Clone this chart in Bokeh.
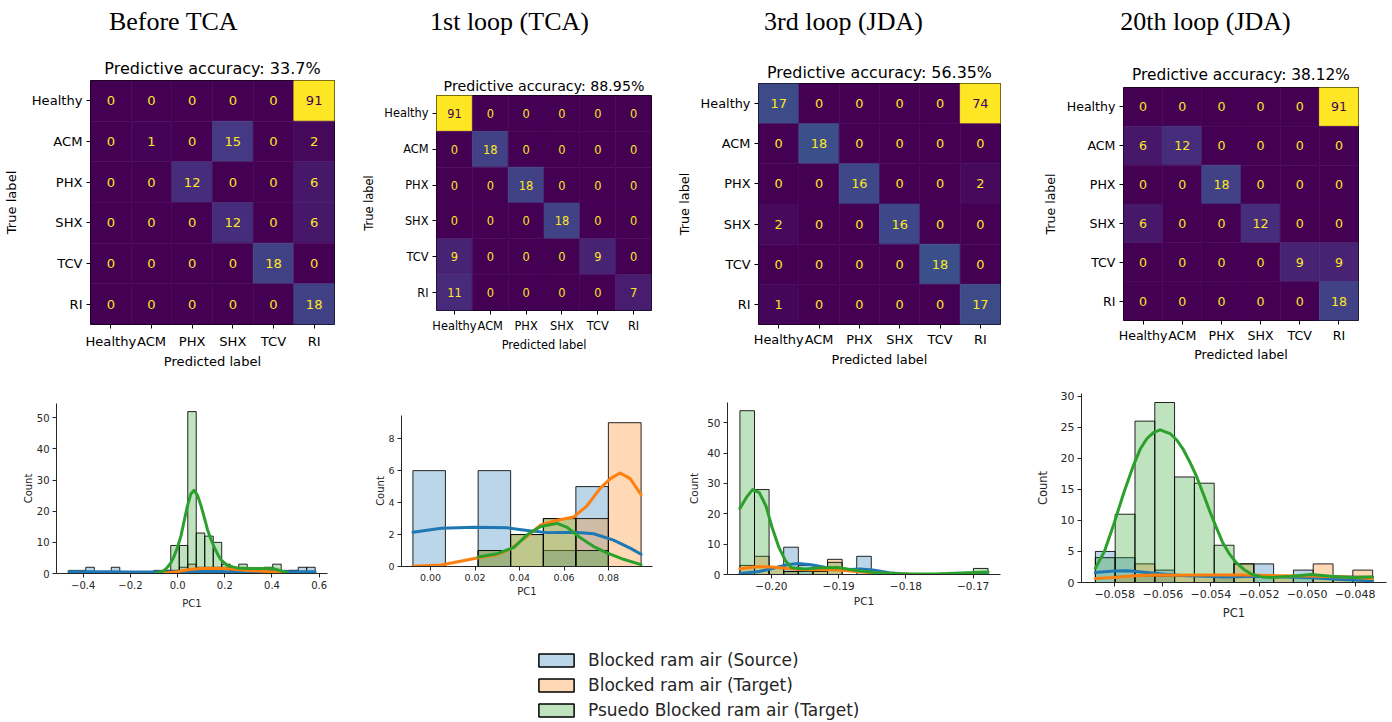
from bokeh.plotting import figure
from bokeh.layouts import column, row
from bokeh.models import (ColumnDataSource, FactorRange, Range1d, LinearColorMapper, FixedTicker,
                          SingleIntervalTicker, CustomJSTickFormatter, Legend, LegendItem)
from bokeh.palettes import Viridis256
from bokeh.transform import transform
from bokeh.embed import file_html
from bokeh.resources import INLINE
from bokeh.core.properties import value

# ---------------- data ----------------
CLASSES = ["Healthy", "ACM", "PHX", "SHX", "TCV", "RI"]
PANEL_TITLES = ["Before TCA", "1st loop (TCA)", "3rd loop (JDA)", "20th loop (JDA)"]
ACCURACY = ["33.7%", "88.95%", "56.35%", "38.12%"]

CM_BEFORE = [[0, 0, 0, 0, 0, 91], [0, 1, 0, 15, 0, 2], [0, 0, 12, 0, 0, 6],
             [0, 0, 0, 12, 0, 6], [0, 0, 0, 0, 18, 0], [0, 0, 0, 0, 0, 18]]
CM_LOOP1 = [[91, 0, 0, 0, 0, 0], [0, 18, 0, 0, 0, 0], [0, 0, 18, 0, 0, 0],
            [0, 0, 0, 18, 0, 0], [9, 0, 0, 0, 9, 0], [11, 0, 0, 0, 0, 7]]
CM_LOOP3 = [[17, 0, 0, 0, 0, 74], [0, 18, 0, 0, 0, 0], [0, 0, 16, 0, 0, 2],
            [2, 0, 0, 16, 0, 0], [0, 0, 0, 0, 18, 0], [1, 0, 0, 0, 0, 17]]
CM_LOOP20 = [[0, 0, 0, 0, 0, 91], [6, 12, 0, 0, 0, 0], [0, 0, 18, 0, 0, 0],
             [6, 0, 0, 12, 0, 0], [0, 0, 0, 0, 9, 9], [0, 0, 0, 0, 0, 18]]

SERIES = ["Blocked ram air (Source)", "Blocked ram air (Target)", "Psuedo Blocked ram air (Target)"]
SERIES_COLORS = ["#1f77b4", "#ff7f0e", "#2ca02c"]

# histogram 1 (Before TCA)
H1_EDGES = [-0.461, -0.425, -0.389, -0.353, -0.317, -0.281, -0.245, -0.209, -0.173, -0.137,
            -0.101, -0.065, -0.029, 0.007, 0.043, 0.079, 0.115, 0.151, 0.187, 0.223,
            0.259, 0.295, 0.331, 0.367, 0.403, 0.439, 0.475, 0.511, 0.547, 0.583]
H1_SOURCE = [1, 1, 2, 0, 0, 2, 0, 0, 0, 0, 1, 1, 1, 1, 1, 0, 1, 0, 0, 0, 0, 0, 0, 1, 0, 0, 1, 2, 2]
H1_TARGET = [0, 0, 0, 0, 0, 0, 0, 0, 0, 0, 0, 0, 1, 2, 3, 2, 2, 2, 2, 1, 1, 1, 1, 0, 0, 0, 0, 0, 0]
H1_PSEUDO = [0, 0, 0, 0, 0, 0, 0, 0, 0, 0, 0, 1, 9, 9, 52, 13, 12, 10, 3, 2, 3, 1, 1, 2, 3, 1, 1, 0, 0]
H1_KDE_SOURCE = [(-0.461, 0.55), (-0.4, 0.6), (-0.3, 0.6), (-0.2, 0.5), (-0.1, 0.5), (0.0, 0.6),
                 (0.1, 0.7), (0.2, 0.6), (0.3, 0.5), (0.4, 0.55), (0.5, 0.6), (0.583, 0.55)]
H1_KDE_TARGET = [(-0.06, 0.1), (0.0, 0.6), (0.05, 1.3), (0.1, 1.6), (0.15, 1.7), (0.2, 1.6),
                 (0.25, 1.3), (0.3, 1.0), (0.35, 0.8), (0.4, 0.5), (0.45, 0.2)]
H1_KDE_PSEUDO = [(-0.092, 0.0), (-0.06, 0.8), (-0.043, 2.0), (-0.028, 3.5), (-0.014, 5.7), (0.0, 8.5),
                 (0.014, 12.0), (0.028, 17.0), (0.042, 21.8), (0.056, 25.5), (0.07, 26.7),
                 (0.085, 25.0), (0.099, 21.8), (0.113, 18.0), (0.127, 14.0), (0.141, 11.0),
                 (0.155, 8.5), (0.169, 6.3), (0.183, 4.5), (0.21, 2.6), (0.25, 1.8), (0.30, 1.6),
                 (0.35, 1.6), (0.41, 1.5), (0.44, 0.8), (0.466, 0.1)]

# histogram 2 (1st loop)
H2_EDGES = [-0.0079, 0.0067, 0.0214, 0.0360, 0.0507, 0.0653, 0.0799, 0.0946]
H2_SOURCE = [6, 0, 6, 0, 1, 5, 0]
H2_TARGET = [0, 0, 1, 2, 3, 3, 9]
H2_PSEUDO = [0, 0, 1, 2, 3, 1, 0]
H2_KDE_SOURCE = [(-0.0079, 2.15), (0.0048, 2.4), (0.0197, 2.45), (0.0346, 2.42), (0.0435, 2.25),
                 (0.0524, 2.12), (0.0644, 2.15), (0.0733, 2.05), (0.0822, 1.65), (0.0897, 1.15),
                 (0.0946, 0.77)]
H2_KDE_TARGET = [(-0.0079, 0.02), (0.0048, 0.1), (0.0197, 0.5), (0.030, 0.75), (0.036, 1.1),
                 (0.0435, 1.9), (0.0495, 2.6), (0.0569, 2.9), (0.0644, 3.1), (0.0703, 3.8),
                 (0.0763, 4.9), (0.0808, 5.5), (0.0852, 5.85), (0.0897, 5.5), (0.0946, 4.5)]
H2_KDE_PSEUDO = [(0.0214, 0.6), (0.03, 0.8), (0.0375, 1.2), (0.0435, 2.0), (0.0495, 2.5),
                 (0.0569, 2.7), (0.0614, 2.45), (0.0673, 1.8), (0.0733, 1.25), (0.0793, 0.85),
                 (0.0867, 0.45), (0.0946, 0.12)]

# histogram 3 (3rd loop)
H3_EDGES = [-0.20469, -0.20252, -0.20035, -0.19818, -0.19600, -0.19383, -0.19166, -0.18949,
            -0.18732, -0.18515, -0.18298, -0.18081, -0.17864, -0.17646, -0.17429, -0.17212,
            -0.16995, -0.16778]
H3_SOURCE = [0, 0, 0, 9, 3, 0, 0, 0, 6, 0, 0, 0, 0, 0, 0, 0, 0]
H3_TARGET = [3, 6, 2, 1, 0, 1, 5, 0, 0, 0, 0, 0, 0, 0, 0, 0, 0]
H3_PSEUDO = [54, 28, 2, 1, 1, 1, 4, 0, 0, 0, 0, 0, 0, 0, 0, 0, 2]
H3_KDE_SOURCE = [(-0.20469, 0.3), (-0.2018, 1.0), (-0.1999, 2.0), (-0.1975, 3.3), (-0.1960, 3.6),
                 (-0.1941, 3.2), (-0.1917, 2.2), (-0.1892, 1.6), (-0.1868, 1.8), (-0.1849, 1.5),
                 (-0.1825, 0.6), (-0.1796, 0.1), (-0.1757, 0.0), (-0.16778, 0.0)]
H3_KDE_TARGET = [(-0.20469, 1.9), (-0.2018, 2.6), (-0.1999, 2.5), (-0.1975, 2.0), (-0.1950, 1.6),
                 (-0.1926, 1.6), (-0.1902, 1.5), (-0.1873, 1.0), (-0.1844, 0.5), (-0.1815, 0.15),
                 (-0.178, 0.02)]
H3_KDE_PSEUDO = [(-0.20469, 21.8), (-0.2037, 25.5), (-0.2028, 28.0), (-0.2018, 27.0),
                 (-0.2008, 22.5), (-0.1999, 15.5), (-0.1989, 9.0), (-0.1979, 4.5), (-0.1970, 2.2),
                 (-0.1950, 1.8), (-0.1926, 2.2), (-0.1902, 2.3), (-0.1873, 1.3), (-0.1844, 0.6),
                 (-0.1805, 0.2), (-0.1757, 0.2), (-0.1718, 0.5), (-0.16778, 0.8)]

# histogram 4 (20th loop)
H4_EDGES = [-0.058806, -0.057982, -0.057159, -0.056335, -0.055512, -0.054688, -0.053864,
            -0.053041, -0.052217, -0.051394, -0.050570, -0.049747, -0.048923, -0.048100, -0.047276]
H4_SOURCE = [5, 4, 1, 2, 0, 0, 1, 0, 3, 0, 2, 0, 0, 0]
H4_TARGET = [0, 1, 3, 1, 1, 1, 1, 3, 0, 1, 0, 3, 1, 2]
H4_PSEUDO = [4, 11, 26, 29, 17, 16, 6, 3, 1, 1, 1, 1, 1, 1]
H4_KDE_SOURCE = [(-0.058806, 1.6), (-0.05803, 1.85), (-0.05748, 1.9), (-0.05666, 1.6),
                 (-0.05584, 1.3), (-0.05502, 1.1), (-0.0542, 1.0), (-0.05338, 0.9),
                 (-0.05256, 0.95), (-0.05174, 1.0), (-0.05092, 0.9), (-0.0501, 0.8),
                 (-0.04928, 0.65), (-0.04846, 0.45), (-0.047276, 0.3)]
H4_KDE_TARGET = [(-0.058806, 0.65), (-0.05803, 0.8), (-0.05721, 1.1), (-0.05639, 1.2),
                 (-0.05557, 1.15), (-0.05475, 1.2), (-0.05393, 1.2), (-0.05256, 1.2),
                 (-0.0512, 1.1), (-0.04983, 1.05), (-0.04846, 0.9), (-0.047276, 0.65)]
H4_KDE_PSEUDO = [(-0.058806, 2.3), (-0.05843, 5.0), (-0.05803, 9.5), (-0.05762, 14.5),
                 (-0.05721, 19.0), (-0.05694, 21.5), (-0.05666, 23.2), (-0.05638, 24.2),
                 (-0.05611, 24.6), (-0.0557, 24.0), (-0.05543, 23.0), (-0.05516, 21.5),
                 (-0.05489, 19.5), (-0.05461, 17.2), (-0.05434, 14.5), (-0.05407, 11.7),
                 (-0.05379, 9.0), (-0.05352, 6.5), (-0.05325, 4.7), (-0.05297, 3.3),
                 (-0.05263, 2.1), (-0.05229, 1.3), (-0.05188, 0.9), (-0.05147, 0.8),
                 (-0.05065, 1.0), (-0.04983, 1.3), (-0.04901, 1.0), (-0.04819, 0.8),
                 (-0.047276, 0.9)]

# ---------------- style helpers ----------------
SANS = "DejaVu Sans"
SERIF = "Liberation Serif"
TXT = "#262626"


def cm_figure(mat, acc, w, h, bl, br, bt, bb, title_fs, fs, title_std, ylab_std, xlab_std,
              xtick_std):
    p = figure(width=w, height=h, x_range=FactorRange(factors=CLASSES),
               y_range=FactorRange(factors=CLASSES[::-1]), output_backend="svg",
               toolbar_location=None, min_border_left=bl, min_border_right=br,
               min_border_top=bt, min_border_bottom=bb, title="Predictive accuracy: " + acc)
    vmax = max(max(r) for r in mat)
    vmin = min(min(r) for r in mat)
    thresh = (vmax + vmin) / 2.0
    pred, true, v, lab, tc = [], [], [], [], []
    for i, t in enumerate(CLASSES):
        for j, pr in enumerate(CLASSES):
            pred.append(pr)
            true.append(t)
            v.append(mat[i][j])
            lab.append(str(mat[i][j]))
            tc.append("#fde725" if mat[i][j] < thresh else "#440154")
    src = ColumnDataSource(dict(pred=pred, true=true, v=v, label=lab, tc=tc))
    mapper = LinearColorMapper(palette=Viridis256, low=vmin, high=vmax)
    p.rect(x="pred", y="true", width=1, height=1, source=src,
           fill_color=transform("v", mapper), line_color=transform("v", mapper), line_width=0.6)
    p.text(x="pred", y="true", text="label", text_color="tc", source=src,
           text_align="center", text_baseline="middle",
           text_font=value(SANS), text_font_size="%.1fpx" % fs)
    p.grid.visible = False
    p.outline_line_color = "black"
    p.outline_line_width = 1
    p.axis.axis_line_color = None
    p.axis.major_tick_out = 4
    p.axis.major_tick_in = 0
    p.axis.major_tick_line_color = "black"
    p.yaxis.major_label_standoff = 4
    p.xaxis.major_label_standoff = xtick_std
    p.axis.major_label_text_font = SANS
    p.axis.major_label_text_font_size = "%.1fpx" % fs
    p.axis.major_label_text_color = "black"
    p.axis.axis_label_text_font = SANS
    p.axis.axis_label_text_font_size = "%.1fpx" % fs
    p.axis.axis_label_text_font_style = "normal"
    p.axis.axis_label_text_color = "black"
    p.xaxis.axis_label = "Predicted label"
    p.yaxis.axis_label = "True label"
    p.xaxis.axis_label_standoff = xlab_std
    p.yaxis.axis_label_standoff = ylab_std
    p.title.text_font = SANS
    p.title.text_font_style = "normal"
    p.title.text_font_size = "%.1fpx" % title_fs
    p.title.text_color = "black"
    p.title.align = "center"
    p.title.standoff = title_std
    return p


def minus_formatter(decimals):
    return CustomJSTickFormatter(args=dict(d=decimals), code="""
        const s = Math.abs(tick).toFixed(d);
        return (tick < -1e-12 ? '\u2212' : '') + s;
    """)


def hist_figure(edges, counts, kdes, w, h, bl, br, bt, bb, xticks, decimals, yint,
                tick_fs, lab_fs, ylab_std, xlab_std):
    span = edges[-1] - edges[0]
    ymax = max(max(c) for c in counts)
    p = figure(width=w, height=h, output_backend="svg", toolbar_location=None,
               x_range=Range1d(edges[0] - 0.05 * span, edges[-1] + 0.05 * span),
               y_range=Range1d(0, ymax * 1.05),
               min_border_left=bl, min_border_right=br, min_border_top=bt, min_border_bottom=bb)
    for cnt, col in zip(counts, SERIES_COLORS):
        left = [edges[i] for i in range(len(cnt)) if cnt[i] > 0]
        right = [edges[i + 1] for i in range(len(cnt)) if cnt[i] > 0]
        top = [cnt[i] for i in range(len(cnt)) if cnt[i] > 0]
        p.quad(left=left, right=right, bottom=0, top=top, fill_color=col, fill_alpha=0.3,
               line_color="black", line_alpha=0.85, line_width=1)
    for kde, col in zip(kdes, SERIES_COLORS):
        p.line(x=[a for a, b in kde], y=[b for a, b in kde], line_color=col, line_width=3,
               line_join="round", line_cap="round")
    p.grid.visible = False
    p.outline_line_color = None
    p.xaxis.ticker = FixedTicker(ticks=xticks)
    p.xaxis.formatter = minus_formatter(decimals)
    p.yaxis.ticker = SingleIntervalTicker(interval=yint, num_minor_ticks=0)
    p.axis.minor_tick_line_color = None
    p.axis.axis_line_color = "#262626"
    p.axis.axis_line_width = 1
    p.axis.major_tick_line_color = "#262626"
    p.axis.major_tick_out = 4
    p.axis.major_tick_in = 0
    p.axis.major_label_standoff = 3
    p.axis.major_label_text_font = SANS
    p.axis.major_label_text_font_size = "%.1fpx" % tick_fs
    p.axis.major_label_text_color = TXT
    p.axis.axis_label_text_font = SANS
    p.axis.axis_label_text_font_size = "%.1fpx" % lab_fs
    p.axis.axis_label_text_font_style = "normal"
    p.axis.axis_label_text_color = TXT
    p.xaxis.axis_label = "PC1"
    p.yaxis.axis_label = "Count"
    p.xaxis.axis_label_standoff = xlab_std
    p.yaxis.axis_label_standoff = ylab_std
    return p


# ---------------- header ----------------
W = 1392
HEADER_H = 50
header = figure(width=W, height=HEADER_H, x_range=Range1d(0, W), y_range=Range1d(0, HEADER_H),
                output_backend="svg", toolbar_location=None, x_axis_type=None, y_axis_type=None,
                min_border=0)
header.outline_line_color = None
header.grid.visible = False
HEADER_X = [173, 509, 843, 1205]
header.text(x=HEADER_X, y=[29] * 4, text=PANEL_TITLES, text_align="center",
            text_baseline="alphabetic", text_font=value(SERIF), text_font_size="26px",
            text_color="black")

# ---------------- confusion matrices ----------------
TOP_H = 330
cm1 = cm_figure(CM_BEFORE, ACCURACY[0], 358, TOP_H, 90, 24, 30, 56, 16.0, 13.1, 5, 10, 2, 5)
cm2 = cm_figure(CM_LOOP1, ACCURACY[1], 312, TOP_H, 78, 19, 45, 70, 14.2, 11.4, 4, 5, 2, 4)
cm3 = cm_figure(CM_LOOP3, ACCURACY[2], 365, TOP_H, 88, 35, 33, 56, 15.9, 12.9, 3, 6, 2, 3)
cm4 = cm_figure(CM_LOOP20, ACCURACY[3], 357, TOP_H, 88, 34, 37, 60, 15.4, 12.6, 7, 6, 1, 3)

# ---------------- histograms ----------------
BOT_H = 242
h1 = hist_figure(H1_EDGES, [H1_SOURCE, H1_TARGET, H1_PSEUDO],
                 [H1_KDE_SOURCE, H1_KDE_TARGET, H1_KDE_PSEUDO],
                 360, BOT_H, 56, 33, 23, 49, [-0.4, -0.2, 0.0, 0.2, 0.4, 0.6], 1, 10,
                 10.0, 10.0, 0, 6)
h2 = hist_figure(H2_EDGES, [H2_SOURCE, H2_TARGET, H2_PSEUDO],
                 [H2_KDE_SOURCE, H2_KDE_TARGET, H2_KDE_PSEUDO],
                 325, BOT_H, 41, 33, 35, 56, [0.0, 0.02, 0.04, 0.06, 0.08], 2, 2,
                 9.5, 10.0, -1, 2)
h3 = hist_figure(H3_EDGES, [H3_SOURCE, H3_TARGET, H3_PSEUDO],
                 [H3_KDE_SOURCE, H3_KDE_TARGET, H3_KDE_PSEUDO],
                 347, BOT_H, 38, 32, 22, 48, [-0.20, -0.19, -0.18, -0.17], 2, 10,
                 10.5, 10.5, 4, 2)
h4 = hist_figure(H4_EDGES, [H4_SOURCE, H4_TARGET, H4_PSEUDO],
                 [H4_KDE_SOURCE, H4_KDE_TARGET, H4_KDE_PSEUDO],
                 360, BOT_H, 46, 6, 13, 40,
                 [-0.058, -0.056, -0.054, -0.052, -0.050, -0.048], 3, 5,
                 11.0, 11.5, 8, 5)

# ---------------- legend ----------------
LEG_H = 100
leg = figure(width=W, height=LEG_H, x_range=Range1d(0, 1), y_range=Range1d(0, 1),
             output_backend="svg", toolbar_location=None, x_axis_type=None, y_axis_type=None,
             min_border=0)
leg.outline_line_color = None
leg.grid.visible = False
items = []
for name, col in zip(SERIES, SERIES_COLORS):
    # swatch-only renderer placed outside the visible range
    r = leg.quad(left=[5], right=[6], top=[6], bottom=[5], fill_color=col, fill_alpha=0.3,
                 line_color="black", line_width=1.5)
    items.append(LegendItem(label=name, renderers=[r]))
legend = Legend(items=items, location=(532, 0), orientation="vertical",
                glyph_width=44, glyph_height=16, label_height=20, spacing=5, padding=2,
                label_standoff=10, label_text_font=SANS, label_text_font_size="17px",
                label_text_color=TXT, border_line_alpha=0, background_fill_alpha=0)
leg.add_layout(legend)

# wrap every figure so that the row does not align plot frames across panels
top_row = row(*[column(f) for f in (cm1, cm2, cm3, cm4)])
bot_row = row(*[column(f) for f in (h1, h2, h3, h4)])
layout = column(header, top_row, bot_row, leg)

open("out.html", "w").write(file_html(layout, INLINE))
